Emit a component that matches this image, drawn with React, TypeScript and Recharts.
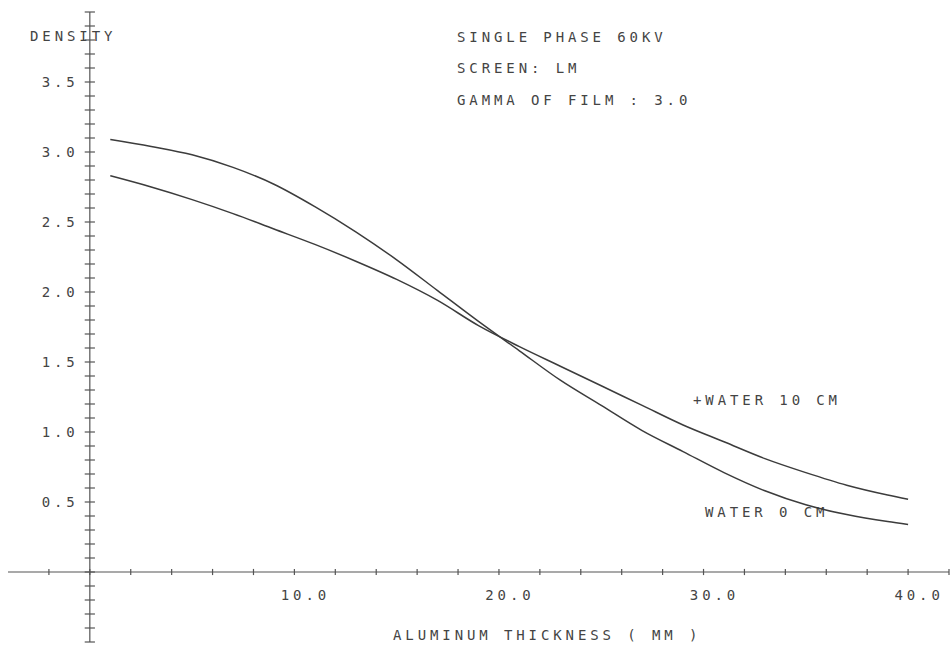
import { LineChart, Line, XAxis, YAxis, ReferenceLine } from "recharts";

const thickness = [1, 3, 5, 7, 9, 11, 13, 15, 17, 19, 21, 23, 25, 27, 29, 31, 33, 35, 37, 39, 40];
const water0 = [3.09, 3.04, 2.98, 2.89, 2.77, 2.61, 2.43, 2.23, 2.01, 1.79, 1.58, 1.37, 1.19, 1.01, 0.86, 0.71, 0.58, 0.48, 0.41, 0.36, 0.34];
const water10 = [2.83, 2.75, 2.66, 2.56, 2.45, 2.34, 2.22, 2.09, 1.94, 1.76, 1.61, 1.47, 1.33, 1.19, 1.05, 0.93, 0.81, 0.71, 0.62, 0.55, 0.52];

const xTicks = [-2, 0, 2, 4, 6, 8, 10, 12, 14, 16, 18, 20, 22, 24, 26, 28, 30, 32, 34, 36, 38, 40, 42];
const xLabels = [10, 20, 30, 40];
const yTicks = [
  -0.5, -0.4, -0.3, -0.2, -0.1, 0, 0.1, 0.2, 0.3, 0.4, 0.5, 0.6, 0.7, 0.8, 0.9, 1.0, 1.1, 1.2, 1.3, 1.4, 1.5,
  1.6, 1.7, 1.8, 1.9, 2.0, 2.1, 2.2, 2.3, 2.4, 2.5, 2.6, 2.7, 2.8, 2.9, 3.0, 3.1, 3.2, 3.3, 3.4, 3.5, 3.6,
  3.7, 3.8, 3.9, 4.0
];
const yLabels = [0.5, 1.0, 1.5, 2.0, 2.5, 3.0, 3.5];

const data = thickness.map((x, i) => ({ x, water0: water0[i], water10: water10[i] }));

const ink = "#3c3c3c";
const font = {
  fontFamily: "'DejaVu Sans Mono', monospace",
  fontSize: 14,
  letterSpacing: 3.9,
  fill: "#444"
};

export default function App() {
  return (
    <div style={{ position: "absolute", left: 0, top: 0, background: "#fff" }}>
      <LineChart width={952} height={649} data={data} margin={{ top: 12, right: 3, bottom: 7, left: 8 }}>
        <XAxis type="number" dataKey="x" domain={[-4, 42]} allowDataOverflow hide />
        <YAxis type="number" domain={[-0.5, 4]} allowDataOverflow hide />

        <ReferenceLine y={0} stroke="#555" strokeWidth={1.2} />
        <ReferenceLine x={0} stroke="#555" strokeWidth={1.2} />

        {xTicks.map((t) => (
          <ReferenceLine
            key={"xt" + t}
            segment={[{ x: t, y: -0.022 }, { x: t, y: 0.022 }]}
            stroke="#555"
            strokeWidth={1.2}
          />
        ))}
        {yTicks.map((t) => (
          <ReferenceLine
            key={"yt" + t}
            segment={[{ x: -0.25, y: t }, { x: 0.25, y: t }]}
            stroke="#555"
            strokeWidth={1.2}
          />
        ))}
        {xLabels.map((t) => (
          <ReferenceLine
            key={"xl" + t}
            segment={[{ x: t, y: -0.022 }, { x: t, y: 0.022 }]}
            stroke="none"
            label={{ value: t.toFixed(1), position: "bottom", offset: 15, dx: 11, ...font }}
          />
        ))}
        {yLabels.map((t) => (
          <ReferenceLine
            key={"yl" + t}
            segment={[{ x: -0.25, y: t }, { x: 0.25, y: t }]}
            stroke="none"
            label={{ value: t.toFixed(1), position: "left", offset: 6, ...font }}
          />
        ))}

        <Line type="monotone" dataKey="water0" stroke={ink} strokeWidth={1.5} dot={false} isAnimationActive={false} />
        <Line type="monotone" dataKey="water10" stroke={ink} strokeWidth={1.5} dot={false} isAnimationActive={false} />

        <text x={30} y={41} style={font}>DENSITY</text>
        <text x={457} y={42} style={font}>SINGLE PHASE 60KV</text>
        <text x={457} y={73} style={font}>SCREEN: LM</text>
        <text x={457} y={105} style={font}>GAMMA OF FILM : 3.0</text>
        <text x={693} y={405} style={font}>+WATER 10 CM</text>
        <text x={705} y={517} style={font}>WATER 0 CM</text>
        <text x={393} y={640} style={font}>ALUMINUM THICKNESS ( MM )</text>
      </LineChart>
    </div>
  );
}
